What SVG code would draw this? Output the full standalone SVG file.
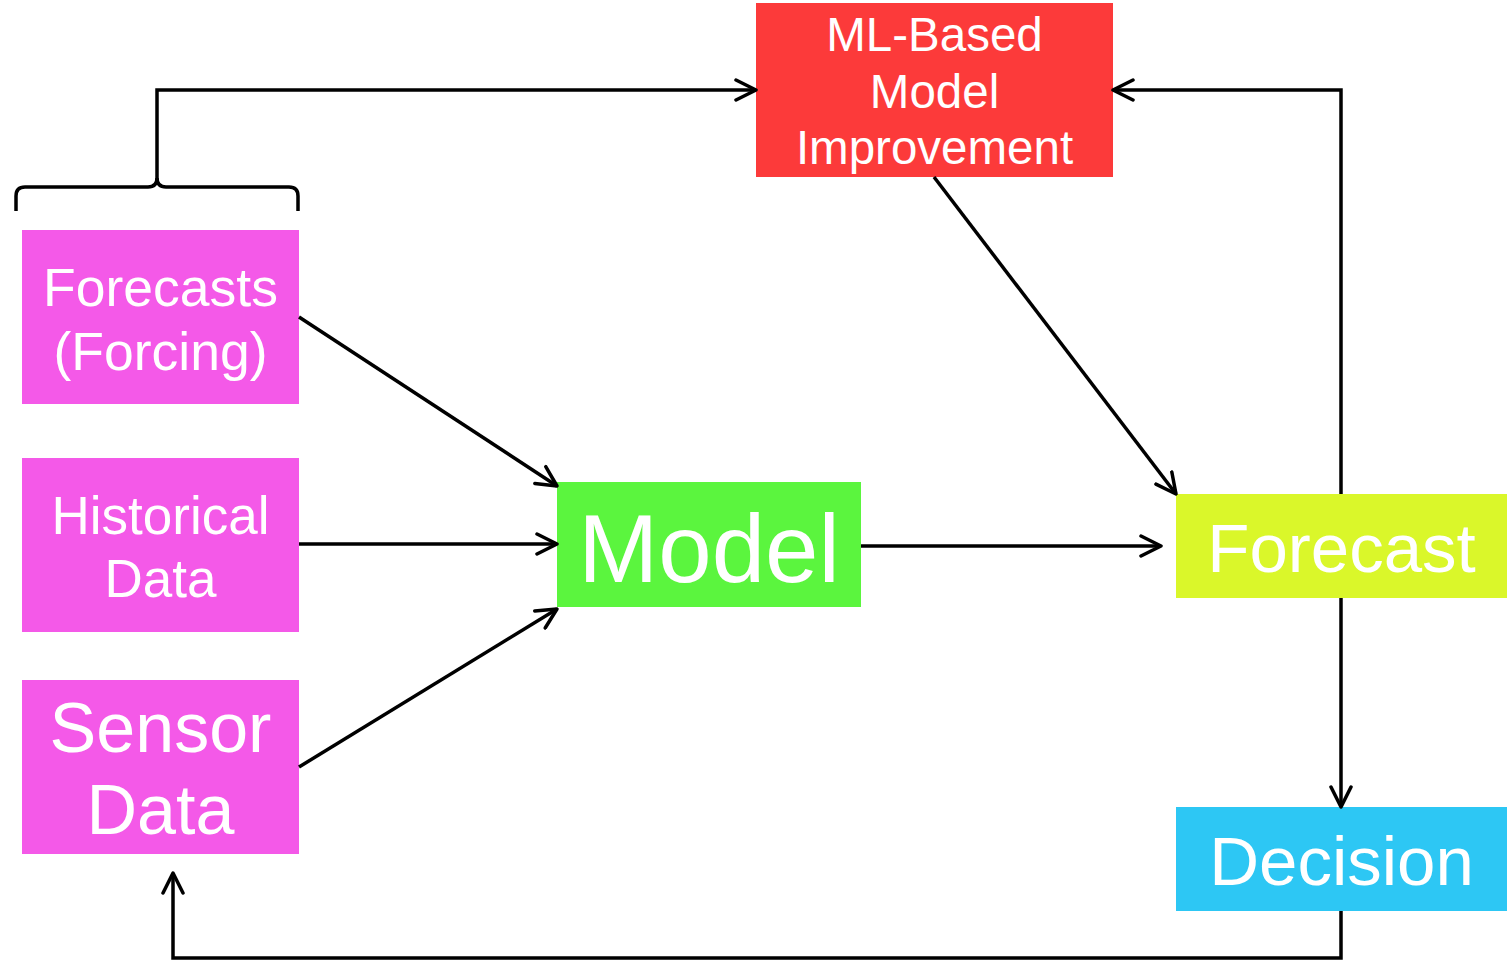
<svg xmlns="http://www.w3.org/2000/svg" width="1512" height="965" viewBox="0 0 1512 965">
  <defs>
    <marker id="arr" viewBox="0 0 24 24" refX="22" refY="12" markerWidth="24" markerHeight="24" markerUnits="userSpaceOnUse" orient="auto">
      <path d="M2,2 L22,12 L2,22" fill="none" stroke="#000" stroke-width="3.5" stroke-linecap="round" stroke-linejoin="round"/>
    </marker>
    <style>
      .lbl { font-family: "Liberation Sans", Arial, sans-serif; fill: #fff; text-anchor: middle; }
      .con { fill: none; stroke: #000; stroke-width: 3.5; stroke-linejoin: miter; }
      .src { fill: #F459E8; }
    </style>
  </defs>
  <rect width="1512" height="965" fill="#fff"/>

  <g id="forecasts-forcing">
    <rect class="src" x="22" y="230" width="277" height="174"/>
    <text class="lbl" font-size="53.5" x="160.5" y="306">Forecasts</text>
    <text class="lbl" font-size="53.5" x="160.5" y="370">(Forcing)</text>
  </g>
  <g id="historical-data">
    <rect class="src" x="22" y="458" width="277" height="174"/>
    <text class="lbl" font-size="53" x="160.5" y="534">Historical</text>
    <text class="lbl" font-size="53" x="160.5" y="597">Data</text>
  </g>
  <g id="sensor-data">
    <rect class="src" x="22" y="680" width="277" height="174"/>
    <text class="lbl" font-size="70" x="160.5" y="752">Sensor</text>
    <text class="lbl" font-size="70" x="160.5" y="834">Data</text>
  </g>
  <g id="model">
    <rect x="557" y="482" width="304" height="125" fill="#5BF53E"/>
    <text class="lbl" font-size="96" x="709" y="582">Model</text>
  </g>
  <g id="ml-improvement">
    <rect x="756" y="3" width="357" height="174" fill="#FC3A3A"/>
    <text class="lbl" font-size="47.5" x="934.5" y="51">ML-Based</text>
    <text class="lbl" font-size="47.5" x="934.5" y="108">Model</text>
    <text class="lbl" font-size="47.5" x="934.5" y="164">Improvement</text>
  </g>
  <g id="forecast">
    <rect x="1176" y="494" width="331" height="104" fill="#DAF72A"/>
    <text class="lbl" font-size="69" x="1341.5" y="572">Forecast</text>
  </g>
  <g id="decision">
    <rect x="1176" y="807" width="331" height="104" fill="#2DC7F4"/>
    <text class="lbl" font-size="69" x="1341.5" y="885">Decision</text>
  </g>

  <g id="connectors">
    <!-- brace grouping the three data sources -->
    <path class="con" d="M16,211 L16,196 Q16,187 25,187 L148,187 Q157,187 157,178 Q157,187 166,187 L289,187 Q298,187 298,196 L298,211"/>
    <path class="con" d="M157,180 L157,90 L756,90" marker-end="url(#arr)"/>
    <path class="con" d="M1341,494 L1341,90 L1113,90" marker-end="url(#arr)"/>
    <path class="con" d="M934,177 L1176,494" marker-end="url(#arr)"/>
    <path class="con" d="M299,317 L557,486" marker-end="url(#arr)"/>
    <path class="con" d="M299,544 L557,544" marker-end="url(#arr)"/>
    <path class="con" d="M299,767 L557,609" marker-end="url(#arr)"/>
    <path class="con" d="M861,546 L1161,546" marker-end="url(#arr)"/>
    <path class="con" d="M1341,598 L1341,807" marker-end="url(#arr)"/>
    <path class="con" d="M1341,911 L1341,958 L173,958 L173,873" marker-end="url(#arr)"/>
  </g>
</svg>
